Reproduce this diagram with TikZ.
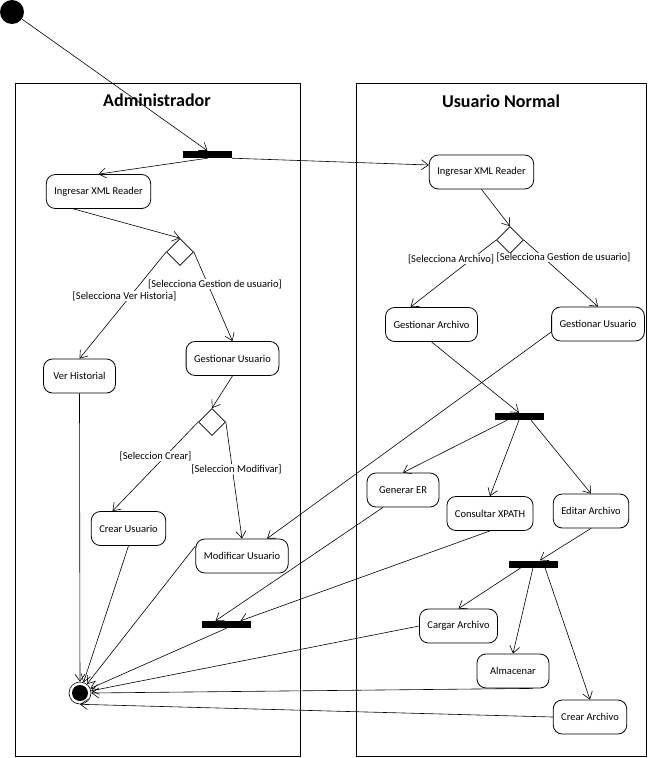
\documentclass[tikz,border=0pt]{standalone}
\usepackage{fontspec}
\setmainfont{Carlito}
\usetikzlibrary{shapes.geometric,arrows.meta}
\begin{document}
\begin{tikzpicture}[x=1pt,y=-1pt,
  act/.style={draw,rounded corners=9pt,minimum height=34pt,minimum width=72pt,inner xsep=8pt,font=\fontsize{10.5}{12}\selectfont,line width=0.8pt},
  bar/.style={fill=black,minimum width=49pt,minimum height=7pt,inner sep=0pt},
  dec/.style={draw,diamond,minimum width=27pt,minimum height=27pt,inner sep=0pt,line width=0.7pt},
  guard/.style={fill=white,inner xsep=1pt,inner ysep=0pt,font=\fontsize{10.5}{12}\selectfont},
  lanetitle/.style={font=\fontsize{18}{20}\selectfont\bfseries},
  flow/.style={-{Straight Barb[length=7pt,width=10pt]},line width=0.6pt}]
\useasboundingbox (0,0) rectangle (648,758);
\draw[line width=0.8pt] (15,83) rectangle (300,756);
\draw[line width=0.8pt] (356,83) rectangle (646,756);
\node[lanetitle] (admin) at (157,100) {Administrador};
\node[lanetitle] (normal) at (501,101) {Usuario Normal};
\node[circle,fill,minimum size=24pt,inner sep=0pt] (ini) at (12,12) {};
\node[bar] (forkA) at (207.5,154.5) {};
\node[act] (ingA) at (98.5,191.5) {Ingresar XML Reader};
\node[act] (ingB) at (481.5,172) {Ingresar XML Reader};
\node[dec] (decA) at (180,252) {};
\node[act] (verH) at (79.5,376) {Ver Historial};
\node[act] (gesUA) at (232.5,358.5) {Gestionar Usuario};
\node[dec] (decB) at (212,422) {};
\node[act] (crearU) at (128.5,528.5) {Crear Usuario};
\node[act] (modU) at (242,556) {Modificar Usuario};
\node[dec] (decC) at (510,240) {};
\node[act] (gesAr) at (431.5,324.5) {Gestionar Archivo};
\node[act] (gesUB) at (598,324) {Gestionar Usuario};
\node[bar] (forkB) at (519,416.5) {};
\node[act] (genER) at (403,490) {Generar ER};
\node[act] (consX) at (490,513.5) {Consultar XPATH};
\node[act] (editA) at (591,511) {Editar Archivo};
\node[bar] (forkC) at (533,564) {};
\node[act] (cargA) at (458.5,626) {Cargar Archivo};
\node[act] (almac) at (513,671) {Almacenar};
\node[act] (crearA) at (590,717) {Crear Archivo};
\node[bar] (forkD) at (226.5,624.5) {};
\node[circle,draw,minimum size=22pt,inner sep=0pt,line width=0.6pt] (fin) at (80,693) {};
\node[circle,fill,minimum size=16pt,inner sep=0pt] (finDot) at (fin) {};
\draw[flow] (ini) -- (forkA.north);
\draw[flow] (forkA.south) -- (ingA.north);
\draw[flow] (forkA.south east) -- ([yshift=7pt]ingB.west);
\draw[flow] ([xshift=-25pt]ingA.south) -- (decA.north);
\draw[flow] (decA.west) -- (verH.north);
\draw[flow] (decA.east) -- (gesUA.north);
\draw[flow] (gesUA.south) -- (decB.north);
\draw[flow] (decB.west) -- ([xshift=-16pt]crearU.north);
\draw[flow] (decB.east) -- (modU.north);
\draw[flow] (ingB.south) -- (decC.north);
\draw[flow] (decC.west) -- ([xshift=-21pt]gesAr.north);
\draw[flow] (decC.east) -- (gesUB.north);
\draw[flow] (gesAr.south) -- (forkB.north);
\draw[flow] ([yshift=-8pt]gesUB.west) -- ([xshift=25pt]modU.north);
\draw[flow] ([xshift=-12pt]forkB.south) -- (genER.north);
\draw[flow] (forkB.south) -- (consX.north);
\draw[flow] ([xshift=12pt]forkB.south) -- (editA.north);
\draw[flow] (editA.south) -- ([xshift=7pt]forkC.north);
\draw[flow] ([xshift=-12pt]forkC.south) -- (cargA.north);
\draw[flow] (forkC.south) -- (almac.north);
\draw[flow] ([xshift=12pt]forkC.south) -- (crearA.north);
\draw[flow] ([xshift=-20pt]genER.south) -- ([xshift=-11pt]forkD.north);
\draw[flow] (consX.south) -- ([xshift=14pt]forkD.north);
\draw[flow] (verH.south) -- (fin);
\draw[flow] (crearU.south) -- (fin);
\draw[flow] ([yshift=10pt]modU.west) -- (fin);
\draw[flow] (forkD.south) -- (fin);
\draw[flow] (cargA.west) -- (fin);
\draw[flow] ([xshift=20pt]almac.south) -- (fin.east);
\draw[flow] (crearA.west) -- (fin.south);
\node[guard] (gVer) at (124.5,296) {[Selecciona Ver Historia]};
\node[guard] (gGesA) at (215,284) {[Selecciona Gestion de usuario]};
\node[guard] (gCrear) at (155.5,456) {[Seleccion Crear]};
\node[guard] (gMod) at (236.5,469) {[Seleccion Modifivar]};
\node[guard] (gArch) at (451,259) {[Selecciona Archivo]};
\node[guard] (gGesB) at (563.5,257.5) {[Selecciona Gestion de usuario]};
\end{tikzpicture}
\end{document}
